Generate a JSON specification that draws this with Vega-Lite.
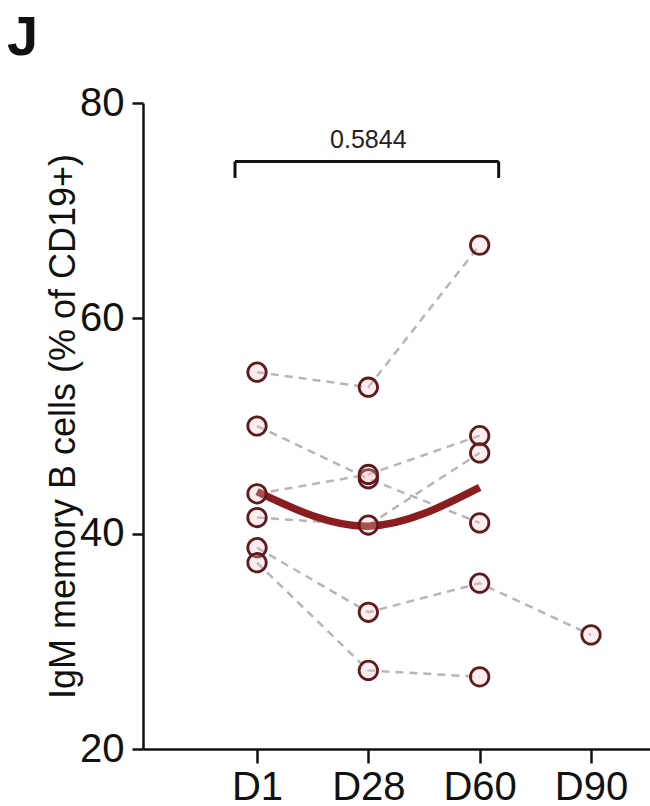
{
  "$schema": "https://vega.github.io/schema/vega-lite/v6.json",
  "autosize": {"type": "none"},
  "width": 507,
  "height": 646,
  "padding": {"left": 143, "top": 103, "right": 0, "bottom": 57},
  "background": "white",
  "title": {
    "text": "J",
    "anchor": "start",
    "frame": "group",
    "font": "Liberation Sans",
    "fontSize": 56,
    "fontWeight": "bold",
    "color": "#111111",
    "baseline": "alphabetic",
    "offset": -28,
    "dx": -136
  },
  "config": {
    "view": {"stroke": null},
    "axis": {
      "grid": false,
      "domainColor": "#111111",
      "domainWidth": 2.5,
      "tickColor": "#111111",
      "tickWidth": 2.5,
      "labelColor": "#111111",
      "labelFont": "Liberation Sans",
      "titleFont": "Liberation Sans",
      "titleColor": "#111111",
      "titleFontWeight": "normal"
    }
  },
  "datasets": {
    "points": [
      {"subject": "S1", "day": "D1", "value": 55.0},
      {"subject": "S1", "day": "D28", "value": 53.6},
      {"subject": "S1", "day": "D60", "value": 66.8},
      {"subject": "S2", "day": "D1", "value": 50.0},
      {"subject": "S2", "day": "D28", "value": 45.1},
      {"subject": "S2", "day": "D60", "value": 41.0},
      {"subject": "S3", "day": "D1", "value": 43.7},
      {"subject": "S3", "day": "D28", "value": 45.5},
      {"subject": "S3", "day": "D60", "value": 49.1},
      {"subject": "S4", "day": "D1", "value": 41.5},
      {"subject": "S4", "day": "D28", "value": 40.8},
      {"subject": "S4", "day": "D60", "value": 47.5},
      {"subject": "S5", "day": "D1", "value": 38.7},
      {"subject": "S5", "day": "D28", "value": 32.7},
      {"subject": "S5", "day": "D60", "value": 35.4},
      {"subject": "S5", "day": "D90", "value": 30.6},
      {"subject": "S6", "day": "D1", "value": 37.3},
      {"subject": "S6", "day": "D28", "value": 27.3},
      {"subject": "S6", "day": "D60", "value": 26.7}
    ],
    "trend": [
      {"day": "D1", "value": 43.9},
      {"day": "D28", "value": 40.7},
      {"day": "D60", "value": 44.3}
    ],
    "bracket": [
      {"from": "D1", "to": "D60", "y": 74.57, "yEnd": 73.04, "yText": 75.82, "label": "0.5844"}
    ]
  },
  "encoding": {
    "x": {
      "field": "day",
      "type": "ordinal",
      "sort": ["D1", "D28", "D60", "D90"],
      "scale": {"type": "point", "domain": ["D1", "D28", "D60", "D90"], "padding": 0.777, "align": 0.659},
      "axis": {
        "title": null,
        "labelAngle": 0,
        "labelFontSize": 40,
        "tickSize": 14,
        "labelPadding": 4
      }
    },
    "y": {
      "field": "value",
      "type": "quantitative",
      "scale": {"domain": [20, 80], "nice": false, "zero": false},
      "axis": {
        "title": "IgM memory B cells (% of CD19+)",
        "titleFontSize": 36,
        "titlePadding": -3,
        "values": [20, 40, 60, 80],
        "labelFontSize": 40,
        "tickSize": 11,
        "labelPadding": 8
      }
    }
  },
  "layer": [
    {
      "data": {"name": "points"},
      "mark": {"type": "line", "stroke": "#bdb3b3", "strokeWidth": 2.5, "strokeDash": [8, 6]},
      "encoding": {"detail": {"field": "subject"}}
    },
    {
      "data": {"name": "trend"},
      "mark": {"type": "line", "stroke": "#8b1c1f", "strokeWidth": 7.5, "interpolate": "natural", "strokeCap": "butt"},
      "encoding": {}
    },
    {
      "data": {"name": "points"},
      "mark": {"type": "point", "shape": "circle", "size": 340, "filled": false, "stroke": "#5e1a1e", "strokeWidth": 2.8, "fill": "#f2c8c8", "fillOpacity": 0.3},
      "encoding": {}
    },
    {
      "data": {"name": "bracket"},
      "mark": {"type": "rule", "stroke": "#111111", "strokeWidth": 3, "xOffset": -22, "x2Offset": 19},
      "encoding": {
        "x": {"field": "from", "type": "ordinal"},
        "x2": {"field": "to"},
        "y": {"field": "y", "type": "quantitative"}
      }
    },
    {
      "data": {"name": "bracket"},
      "mark": {"type": "rule", "stroke": "#111111", "strokeWidth": 3, "xOffset": -22},
      "encoding": {
        "x": {"field": "from", "type": "ordinal"},
        "y": {"field": "y", "type": "quantitative"},
        "y2": {"field": "yEnd"}
      }
    },
    {
      "data": {"name": "bracket"},
      "mark": {"type": "rule", "stroke": "#111111", "strokeWidth": 3, "xOffset": 19},
      "encoding": {
        "x": {"field": "to", "type": "ordinal"},
        "y": {"field": "y", "type": "quantitative"},
        "y2": {"field": "yEnd"}
      }
    },
    {
      "data": {"name": "bracket"},
      "mark": {"type": "text", "font": "Liberation Sans", "fontSize": 25, "color": "#222222", "baseline": "alphabetic", "align": "center"},
      "encoding": {
        "x": {"datum": "D28", "type": "ordinal"},
        "y": {"field": "yText", "type": "quantitative"},
        "text": {"field": "label"}
      }
    }
  ]
}
